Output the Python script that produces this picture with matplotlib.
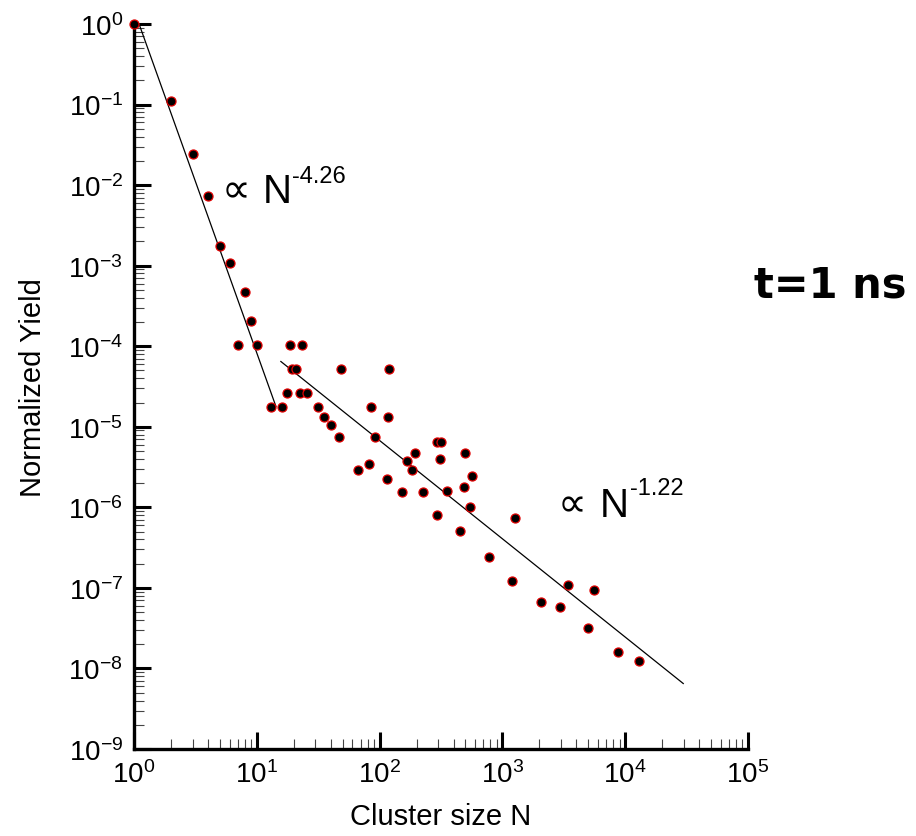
import numpy as np
import matplotlib
matplotlib.use("Agg")
import matplotlib.pyplot as plt
from matplotlib.ticker import LogLocator, NullFormatter

plt.rcParams['font.family'] = ['Liberation Sans', 'DejaVu Sans']
plt.rcParams['mathtext.fontset'] = 'custom'
plt.rcParams['mathtext.rm'] = 'Liberation Sans'
plt.rcParams['mathtext.it'] = 'Liberation Sans:italic'
plt.rcParams['mathtext.bf'] = 'Liberation Sans:bold'

# ---- data ----
cluster_size = [1, 2, 3, 4, 5, 6, 7, 8, 9, 10, 13, 16, 17.7, 18.6, 19.5, 20.7,
                22.5, 23.5, 25.6, 31.3, 35.5, 40.2, 47, 48.5, 66.7, 81.5, 84.6,
                91.2, 114, 117.8, 120, 152, 166, 185, 194, 227, 293, 295, 312,
                318, 354, 454, 484, 496, 545, 569, 778, 1205, 1267, 2062, 2944,
                3441, 5010, 5538, 8790, 12950]
norm_yield = [1.0, 0.11, 0.0244, 0.0073, 0.00176, 0.00109, 1.04e-4, 4.7e-4,
              2.08e-4, 1.04e-4, 1.75e-5, 1.75e-5, 2.62e-5, 1.04e-4, 5.24e-5,
              5.24e-5, 2.62e-5, 1.04e-4, 2.62e-5, 1.75e-5, 1.31e-5, 1.04e-5,
              7.45e-6, 5.24e-5, 2.87e-6, 3.44e-6, 1.75e-5, 7.45e-6, 2.24e-6,
              1.31e-5, 5.24e-5, 1.53e-6, 3.71e-6, 2.87e-6, 4.72e-6, 1.53e-6,
              8.09e-7, 6.52e-6, 4.01e-6, 6.52e-6, 1.61e-6, 5.03e-7, 1.79e-6,
              4.72e-6, 9.97e-7, 2.47e-6, 2.42e-7, 1.22e-7, 7.28e-7, 6.6e-8,
              5.8e-8, 1.10e-7, 3.2e-8, 9.5e-8, 1.58e-8, 1.24e-8]

# power-law fits: prefactor, exponent, N range
fit1_pref, fit1_exp, fit1_range = 1.5, -4.26, (1.1, 14.3)
fit2_pref, fit2_exp, fit2_range = 1.86e-3, -1.22, (15.7, 29700)

x_ticks = [1e0, 1e1, 1e2, 1e3, 1e4, 1e5]
y_ticks = [1e0, 1e-1, 1e-2, 1e-3, 1e-4, 1e-5, 1e-6, 1e-7, 1e-8, 1e-9]

W, H = 916, 837
fig = plt.figure(figsize=(W / 100, H / 100), dpi=100)
ax = fig.add_axes([134 / W, 1 - 750 / H, (748 - 134) / W, (750 - 25) / H])

for pref, ex, rng in [(fit1_pref, fit1_exp, fit1_range), (fit2_pref, fit2_exp, fit2_range)]:
    n = np.array(rng, dtype=float)
    ax.plot(n, pref * n ** ex, color='black', lw=0.9, zorder=2)

ax.plot(cluster_size, norm_yield, linestyle='none', marker='o', ms=6.5,
        mfc='black', mec='#e00000', mew=0.9, zorder=3, clip_on=False)

ax.set_xscale('log')
ax.set_yscale('log')
ax.set_xlim(1e0, 1e5)
ax.set_ylim(1e-9, 1e0)
ax.set_xticks(x_ticks)
ax.set_yticks(y_ticks)
ax.xaxis.set_minor_locator(LogLocator(base=10, subs=np.arange(2, 10), numticks=20))
ax.yaxis.set_minor_locator(LogLocator(base=10, subs=np.arange(2, 10), numticks=20))
ax.xaxis.set_minor_formatter(NullFormatter())
ax.yaxis.set_minor_formatter(NullFormatter())

ax.spines['top'].set_visible(False)
ax.spines['right'].set_visible(False)
ax.spines['left'].set_linewidth(2.4)
ax.spines['bottom'].set_linewidth(2.4)
ax.tick_params(which='major', direction='in', length=12, width=2.2,
               labelsize=20, pad=8)
ax.tick_params(which='minor', direction='in', length=7, width=0.8, color='#444444')

ax.set_xlabel('Cluster size N', fontsize=21, va='top')
ax.xaxis.set_label_coords(0.5, (750 - 803) / 725)
ax.set_ylabel('Normalized Yield', fontsize=21, va='center')
ax.yaxis.set_label_coords((33 - 134) / 614, 0.5)

# annotations
def power_label(x, y, exp_text, dx_n, dx_sup, dy_sup):
    ax.annotate('\u221d', (x, y), xytext=(0, 0), textcoords='offset points',
                fontsize=29, ha='left', va='baseline', family=['DejaVu Sans'])
    ax.annotate('N', (x, y), xytext=(dx_n, 0), textcoords='offset points',
                fontsize=29, ha='left', va='baseline')
    ax.annotate(exp_text, (x, y), xytext=(dx_sup, dy_sup), textcoords='offset points',
                fontsize=17, ha='left', va='baseline')

power_label(5.2, 10 ** -2.208, '-4.26', 29.5, 50.5, 14.4)
power_label(2837, 10 ** -6.104, '-1.22', 30, 52, 15.8)

fig.text(754 / W, 1 - 297 / H, 't=1 ns', fontsize=30, fontweight='bold',
         ha='left', va='baseline', family=['DejaVu Sans'])

fig.savefig('out.png', dpi=100)
